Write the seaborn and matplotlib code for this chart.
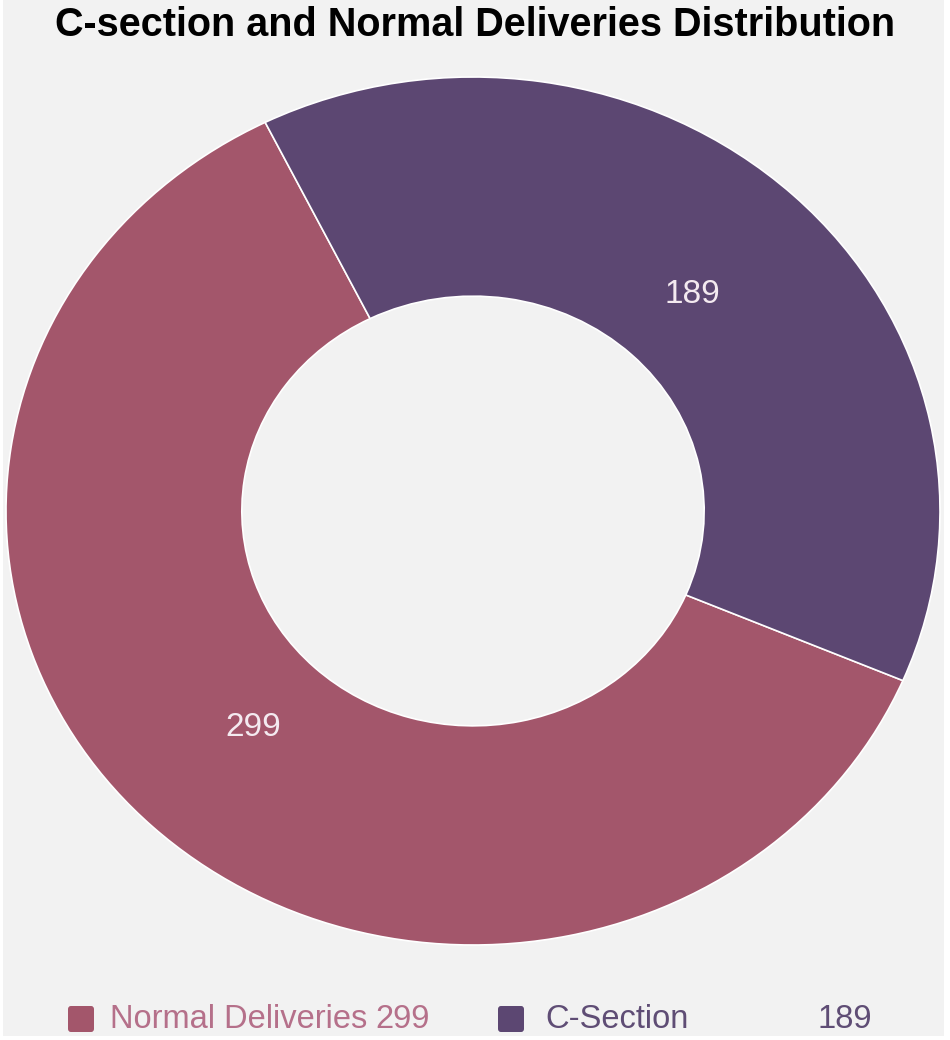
import matplotlib.pyplot as plt
import seaborn as sns
from matplotlib.patches import Rectangle, FancyBboxPatch

# Data
labels = ['Normal Deliveries', 'C-Section']
counts = [299, 189]
colors = ['#a3566b', '#5c4772']
legend_text_colors = ['#b5708a', '#5f4d75']

sns.set_theme(style='white')
plt.rcParams['font.family'] = ['Liberation Sans', 'DejaVu Sans']

fig = plt.figure(figsize=(9.5, 10.4), dpi=100, facecolor='white')
fig.patches.append(Rectangle((3 / 950, 4 / 1040), 941 / 950, 1036 / 1040,
                             transform=fig.transFigure, facecolor='#f2f2f2',
                             edgecolor='none', zorder=0))

ax = fig.add_axes([6 / 950, 95 / 1040, 934 / 950, 868 / 1040])
ax.set_zorder(2)
ax.set_facecolor('none')
total = sum(counts)
wedges, texts, autotexts = ax.pie(
  counts,
  colors=colors,
  startangle=-23,
  counterclock=False,
  wedgeprops=dict(width=0.505, edgecolor='white', linewidth=1.2),
  autopct=lambda p: f'{round(p * total / 100)}',
  pctdistance=0.685,
  textprops=dict(color='#f4eaf0', fontsize=24))
ax.set_aspect('auto')
ax.set_xlim(-1, 1)
ax.set_ylim(-1, 1)
ax.axis('off')

fig.text(0.5, 1 - 25 / 1040, 'C-section and Normal Deliveries Distribution',
         ha='center', va='center', fontsize=28.5, fontweight='bold',
         color='black', zorder=3)

# Legend row
square_x = [68, 498]
label_x = [110, 545]
value_x = [375, 818]
ly = 1 - 1019 / 1040
for i in range(len(labels)):
  fig.patches.append(FancyBboxPatch(
    (square_x[i] / 950, (1040 - 1032) / 1040), 26 / 950, 26 / 1040,
    boxstyle='round,pad=0,rounding_size=0.003', transform=fig.transFigure,
    facecolor=colors[i], edgecolor='none', zorder=3))
  fig.text(label_x[i] / 950, ly, labels[i], ha='left', va='center',
           fontsize=23.5, color=legend_text_colors[i], zorder=3)
  fig.text(value_x[i] / 950, ly, str(counts[i]), ha='left', va='center',
           fontsize=23.5, color=legend_text_colors[i], zorder=3)

fig.savefig('out.png', dpi=100, facecolor=fig.get_facecolor())
